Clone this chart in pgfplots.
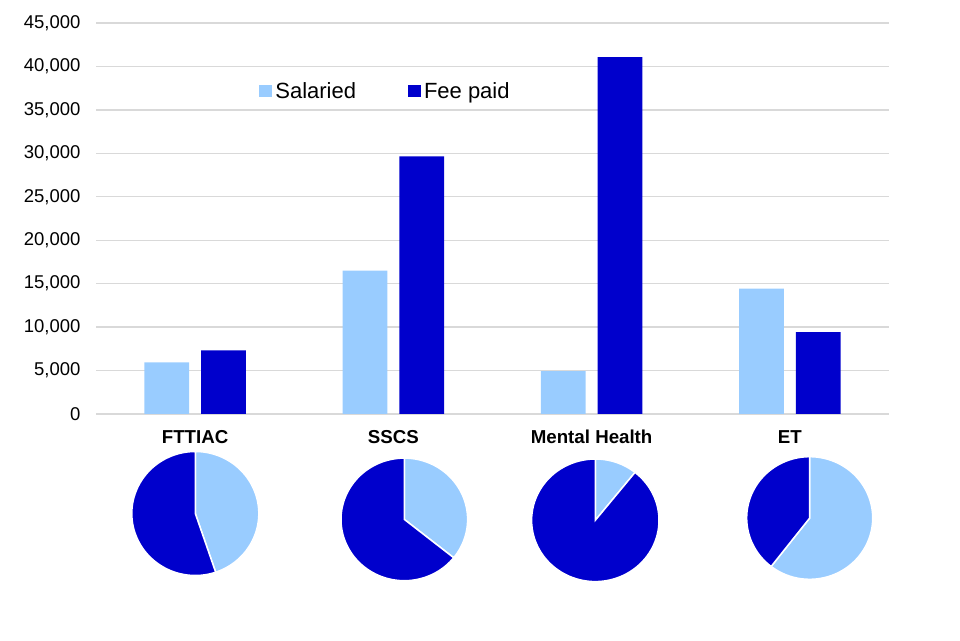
\documentclass[border=0pt]{standalone}
\usepackage{pgfplots}
\pgfplotsset{compat=1.18}
\usepackage{fontspec}
\setmainfont{Liberation Sans}
\definecolor{sal}{HTML}{99CCFF}
\definecolor{fee}{HTML}{0000CC}
\definecolor{gridc}{HTML}{D9D9D9}
\begin{document}
\begin{tikzpicture}[x=1pt,y=1pt]
\useasboundingbox (0,0) rectangle (960,640);
\begin{axis}[
  at={(96pt,226pt)}, anchor=south west,
  scale only axis, width=793pt, height=391pt,
  ybar=12pt, bar width=44.7pt,
  xmin=-0.5, xmax=3.5, ymin=0, ymax=45000,
  xtick={0,1,2,3},
  xticklabels={FTTIAC,SSCS,Mental Health,ET},
  ytick={0,5000,...,45000},
  ymajorgrids, grid style={draw=gridc, line width=1.3pt},
  axis x line*=bottom, axis y line*=left,
  x axis line style={draw=gridc, line width=1.3pt, -},
  y axis line style={draw=none},
  major tick length=0pt,
  /pgf/number format/.cd, 1000 sep={,}, assume math mode=true,
  /pgfplots/.cd,
  scaled y ticks=false,
  yticklabel style={font=\fontsize{18.5}{20}\selectfont, xshift=-12pt},
  xticklabel style={font=\fontsize{18.7}{20}\bfseries, text height=13.4pt, text depth=0pt, yshift=-12.5pt},
  legend columns=2,
  legend style={at={(0.2059,0.8256)}, anchor=west, draw=none, fill=none,
    font=\fontsize{22}{24}\selectfont, inner sep=0pt,
    /tikz/every odd column/.append style={column sep=1.5pt},
    /tikz/every even column/.append style={column sep=50pt}},
  legend image code/.code={\fill[#1] (0pt,-6.2pt) rectangle (12.4pt,6.2pt);},
]
\addplot[fill=sal, draw=none] coordinates {(0,5950) (1,16500) (2,4930) (3,14420)};
\addplot[fill=fee, draw=none] coordinates {(0,7330) (1,29650) (2,41070) (3,9420)};
\legend{Salaried, Fee paid}
\end{axis}
\begin{axis}[
  at={(0pt,0pt)}, anchor=south west,
  scale only axis, width=960pt, height=640pt,
  xmin=0, xmax=960, ymin=0, ymax=640,
  hide axis, clip=false,
  samples=90, variable=\t,
]
% FTTIAC: salaried 5.95, fee paid 7.33 (thousands)
\addplot[fill=sal, draw=white, line width=1.5pt, domain=0:{360*5.95/(5.95+7.33)}]
  ({195.3+63.5*sin(\t)},{126.5+62*cos(\t)}) -- (axis cs:195.3,126.5) -- cycle;
\addplot[fill=fee, draw=white, line width=1.5pt, domain={360*5.95/(5.95+7.33)}:360]
  ({195.3+63.5*sin(\t)},{126.5+62*cos(\t)}) -- (axis cs:195.3,126.5) -- cycle;
% SSCS: 16.5, 29.65
\addplot[fill=sal, draw=white, line width=1.5pt, domain=0:{360*16.5/(16.5+29.65)}]
  ({404.3+63.3*sin(\t)},{120.6+61.3*cos(\t)}) -- (axis cs:404.3,120.6) -- cycle;
\addplot[fill=fee, draw=white, line width=1.5pt, domain={360*16.5/(16.5+29.65)}:360]
  ({404.3+63.3*sin(\t)},{120.6+61.3*cos(\t)}) -- (axis cs:404.3,120.6) -- cycle;
% Mental Health: 4.93, 41.07
\addplot[fill=sal, draw=white, line width=1.5pt, domain=0:{360*4.93/(4.93+41.07)}]
  ({595.3+63.7*sin(\t)},{119.7+61.3*cos(\t)}) -- (axis cs:595.3,119.7) -- cycle;
\addplot[fill=fee, draw=white, line width=1.5pt, domain={360*4.93/(4.93+41.07)}:360]
  ({595.3+63.7*sin(\t)},{119.7+61.3*cos(\t)}) -- (axis cs:595.3,119.7) -- cycle;
% ET: 14.42, 9.42
\addplot[fill=sal, draw=white, line width=1.5pt, domain=0:{360*14.42/(14.42+9.42)}]
  ({809.7+63*sin(\t)},{122+61.3*cos(\t)}) -- (axis cs:809.7,122) -- cycle;
\addplot[fill=fee, draw=white, line width=1.5pt, domain={360*14.42/(14.42+9.42)}:360]
  ({809.7+63*sin(\t)},{122+61.3*cos(\t)}) -- (axis cs:809.7,122) -- cycle;
\end{axis}
\end{tikzpicture}
\end{document}
